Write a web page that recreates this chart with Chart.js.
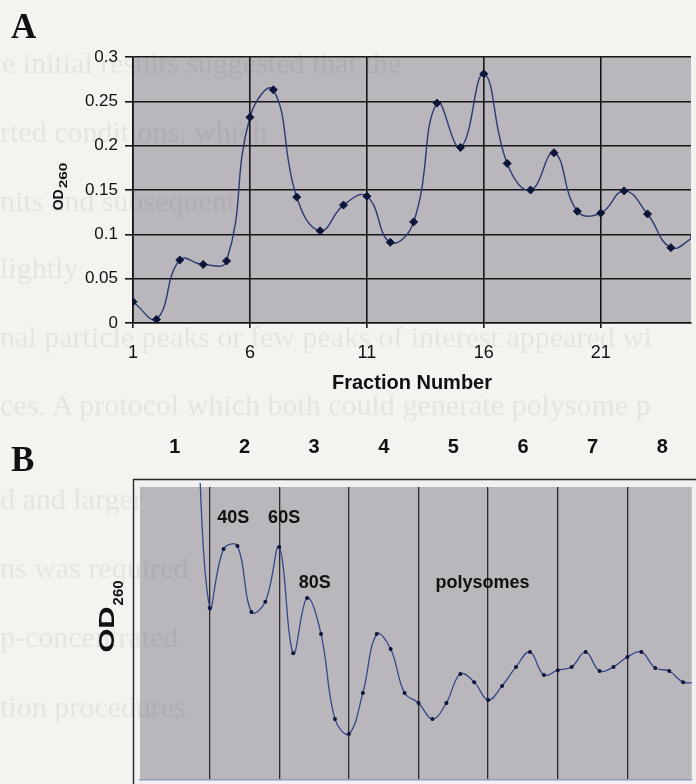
<!DOCTYPE html>
<html>
<head>
<meta charset="utf-8">
<script src="https://cdn.jsdelivr.net/npm/chart.js@4.4.1/dist/chart.umd.min.js"></script>
<style>
	html, body	{ margin: 0; padding: 0; background: #f5f3ef; overflow: hidden; }
	#page		{ position: relative; width: 696px; height: 784px; }
	canvas		{ position: absolute; left: 0; }
	#graphA		{ top: 0; }
	#graphB		{ top: 400px; }
	.panel		{ position: absolute; left: 11px; font: bold 35px/35px "Liberation Serif", "Times New Roman", serif; color: #111; }
	#ghost		{ position: absolute; left: 0; top: 0; width: 696px; height: 784px; overflow: hidden; pointer-events: none;
				  font: 30px/30px "Liberation Serif", "Times New Roman", serif; color: rgba( 40, 40, 40, 0.07 ); white-space: nowrap; }
	#ghost div	{ position: absolute; }
</style>
</head>
<body>
<div id="page">
	<canvas id="graphA" width="696" height="400"></canvas>
	<canvas id="graphB" width="696" height="384"></canvas>
	<div class="panel" style="top: 9px;">A</div>
	<div class="panel" style="top: 442px;">B</div>
	<div id="ghost">
		<div style="left: 2px; top: 48px;">e initial results suggested that the</div>
		<div style="left: 0px; top: 117px;">rted conditions, which</div>
		<div style="left: 0px; top: 186px;">nits and subsequent</div>
		<div style="left: 0px; top: 253px;">lightly</div>
		<div style="left: 0px; top: 322px;">nal particle peaks or few peaks of interest appeared wi</div>
		<div style="left: 0px; top: 390px;">ces.  A protocol which both could generate polysome p</div>
		<div style="left: 0px; top: 484px;">d and larger</div>
		<div style="left: 0px; top: 553px;">ns was required</div>
		<div style="left: 0px; top: 622px;">p-concentrated</div>
		<div style="left: 0px; top: 692px;">tion procedures.</div>
	</div>
</div>
<script>
// panel A : OD260 per gradient fraction
const fractionsA	= [ 1, 2, 3, 4, 5, 6, 7, 8, 9, 10, 11, 12, 13, 14, 15, 16, 17, 18, 19, 20, 21, 22, 23, 24, 25 ];
const od260A		= [ 0.024, 0.004, 0.071, 0.066, 0.070, 0.232, 0.263, 0.142, 0.104, 0.133, 0.143, 0.091, 0.114,
						0.248, 0.198, 0.281, 0.180, 0.150, 0.192, 0.126, 0.124, 0.149, 0.123, 0.085, 0.097 ];
const xTicksA		= [ 1, 6, 11, 16, 21 ];
const yTicksA		= [ 0, 0.05, 0.1, 0.15, 0.2, 0.25, 0.3 ];
const yTickLabelsA	= [ '0', '0.05', '0.1', '0.15', '0.2', '0.25', '0.3' ];

// panel B : continuous trace, five readings per fraction (relative OD260)
const od260B		= [ 1.33, 0.587, 0.788, 0.799, 0.573, 0.608, 0.795, 0.433, 0.621, 0.498, 0.208, 0.157,
						0.297, 0.498, 0.447, 0.297, 0.263, 0.208, 0.263, 0.362, 0.334, 0.273, 0.321, 0.386,
						0.437, 0.358, 0.375, 0.386, 0.437, 0.372, 0.386, 0.420, 0.437, 0.382, 0.372, 0.334, 0.334 ];
const SAMPLE_START	= 0.8;
const SAMPLE_STEP	= 0.2;
const fractionLabelsB	= [ '1', '2', '3', '4', '5', '6', '7', '8' ];
const fractionCentresB	= [ 0.5, 1.5, 2.5, 3.5, 4.5, 5.5, 6.5, 7.5 ];
const fractionEdgesB	= [ 1, 2, 3, 4, 5, 6, 7 ];
const peakNamesB	= [ '40S', '60S', '80S', 'polysomes' ];
const peakXB		= [ 1.34, 2.07, 2.51, 4.92 ];
const peakYB		= [ 0.894, 0.894, 0.672, 0.672 ];

const FONT		= '"Liberation Sans", Arial, sans-serif';
const INK		= '#111111';
const GRID		= '#161616';
const PLOT_GRAY	= '#b9b7bc';

Chart.defaults.font.family	= FONT;
Chart.defaults.color		= INK;

function fixedTicks( values ) {
	return scale => { scale.ticks = values.map( v => ( { value: v } ) ); };
}

// grey plot area, optionally with the outer frame of the trace
const plotFill = {
	id: 'plotFill',
	beforeDraw( chart, args, opts ) {
		const { ctx, chartArea: a } = chart;
		ctx.save();
		if ( opts.frame ) {
			const fx = a.left - 7, fy = a.top - 8;
			ctx.fillStyle	= '#f2f1f1';
			ctx.fillRect( fx, fy, chart.width - fx, chart.height - fy );
			ctx.strokeStyle	= '#262626';
			ctx.lineWidth	= 1.4;
			ctx.beginPath();
			ctx.moveTo( fx + 0.5, chart.height );
			ctx.lineTo( fx + 0.5, fy + 0.5 );
			ctx.lineTo( chart.width, fy + 0.5 );
			ctx.stroke();
		}
		ctx.fillStyle = opts.color;
		ctx.fillRect( a.left, a.top, a.right - a.left, a.bottom - a.top );
		ctx.restore();
	}
};

// rotated "OD" with subscript "260"
function odLabel( p ) {
	return {
		id: 'odLabel',
		afterDraw( chart ) {
			const ctx	= chart.ctx;
			ctx.save();
			ctx.fillStyle		= INK;
			ctx.textBaseline	= 'alphabetic';
			ctx.font	= 'bold ' + p.size + 'px ' + FONT;
			const w1	= ctx.measureText( 'OD' ).width * p.mainStretch;
			ctx.font	= 'bold ' + p.subSize + 'px ' + FONT;
			const w2	= ctx.measureText( '260' ).width * p.subStretch;
			ctx.translate( p.x, p.y );
			ctx.rotate( -Math.PI / 2 );
			const start	= -( w1 + w2 ) / 2;

			ctx.save();
			ctx.font	= 'bold ' + p.size + 'px ' + FONT;
			ctx.translate( start, 0 );
			ctx.scale( p.mainStretch, 1 );
			ctx.fillText( 'OD', 0, 0 );
			ctx.restore();

			ctx.font	= 'bold ' + p.subSize + 'px ' + FONT;
			ctx.translate( start + w1 + 1, p.shift );
			ctx.scale( p.subStretch, 1 );
			ctx.fillText( '260', 0, 0 );
			ctx.restore();
		}
	};
}

const peakNames = {
	id: 'peakNames',
	beforeDatasetsDraw( chart ) {
		const { ctx, scales: { x, y } } = chart;
		ctx.save();
		ctx.font			= 'bold 18px ' + FONT;
		ctx.fillStyle		= INK;
		ctx.textAlign		= 'center';
		ctx.textBaseline	= 'middle';
		peakNamesB.forEach( ( t, i ) => {
			ctx.fillText( t, x.getPixelForValue( peakXB[ i ] ), y.getPixelForValue( peakYB[ i ] ) );
		} );
		ctx.restore();
	}
};

new Chart( document.getElementById( 'graphA' ), {
	type: 'line',
	data: {
		datasets: [ {
			data: fractionsA.map( ( f, i ) => ( { x: f, y: od260A[ i ] } ) ),
			borderColor: '#2b3a74',
			borderWidth: 1.4,
			tension: 0.45,
			pointStyle: 'rectRot',
			pointRadius: 4,
			pointBorderWidth: 1,
			pointBackgroundColor: '#0d1538',
			pointBorderColor: '#0d1538'
		} ]
	},
	options: {
		responsive: false,
		devicePixelRatio: 1,
		animation: false,
		layout: { padding: { top: 57, right: 0, bottom: 0, left: 0 } },
		plugins: {
			legend: { display: false },
			tooltip: { enabled: false },
			plotFill: { color: PLOT_GRAY }
		},
		scales: {
			x: {
				type: 'linear',
				min: 1,
				max: 24.86,
				afterBuildTicks: fixedTicks( xTicksA ),
				afterFit: s => { s.height = 77; },
				grid: { color: GRID, lineWidth: 1.6, tickLength: 5 },
				border: { color: GRID, width: 1.6 },
				ticks: { font: { size: 18 }, padding: 14, maxRotation: 0, autoSkip: false },
				title: { display: true, text: 'Fraction Number', font: { size: 20, weight: 'bold' }, padding: { top: 0, bottom: 5 } }
			},
			y: {
				min: 0,
				max: 0.3,
				afterBuildTicks: fixedTicks( yTicksA ),
				afterFit: s => { s.width = 133; },
				grid: { color: GRID, lineWidth: 1.6, tickLength: 8 },
				border: { color: GRID, width: 1.6 },
				ticks: { font: { size: 17 }, padding: 7, callback: ( v, i ) => yTickLabelsA[ i ] }
			}
		}
	},
	plugins: [ plotFill, odLabel( { x: 63, y: 187, size: 14, subSize: 11, shift: 4, mainStretch: 1, subStretch: 1.4 } ) ]
} );

new Chart( document.getElementById( 'graphB' ), {
	type: 'line',
	data: {
		datasets: [ {
			data: od260B.map( ( v, i ) => ( { x: SAMPLE_START + i * SAMPLE_STEP, y: v } ) ),
			borderColor: '#34488a',
			borderWidth: 1.3,
			tension: 0.4,
			clip: { left: 0, top: 4, right: 0, bottom: 0 },
			pointRadius: 2,
			pointBorderWidth: 0,
			pointBackgroundColor: '#0d1538'
		} ]
	},
	options: {
		responsive: false,
		devicePixelRatio: 1,
		animation: false,
		layout: { padding: { top: 0, right: 0, bottom: 0, left: 140 } },
		plugins: {
			legend: { display: false },
			tooltip: { enabled: false },
			plotFill: { color: PLOT_GRAY, frame: true }
		},
		scales: {
			xTop: {
				type: 'linear',
				position: 'top',
				min: 0,
				max: 7.924,
				afterBuildTicks: fixedTicks( fractionCentresB ),
				afterFit: s => { s.height = 87; },
				grid: { display: false, drawTicks: false },
				border: { display: false },
				ticks: { font: { size: 20, weight: 'bold' }, padding: 28, maxRotation: 0, autoSkip: false,
						 callback: ( v, i ) => fractionLabelsB[ i ] }
			},
			x: {
				type: 'linear',
				min: 0,
				max: 7.924,
				afterBuildTicks: fixedTicks( fractionEdgesB ),
				afterFit: s => { s.height = 4; },
				grid: { color: '#2a2a2a', lineWidth: 1.3, drawTicks: false },
				border: { color: '#8d9cc0', width: 1.5 },
				ticks: { display: false }
			},
			y: {
				display: false,
				min: 0,
				max: 1
			}
		}
	},
	plugins: [ plotFill, peakNames, odLabel( { x: 114, y: 217, size: 22, subSize: 15, shift: 9, mainStretch: 1.4, subStretch: 1 } ) ]
} );
</script>
</body>
</html>
